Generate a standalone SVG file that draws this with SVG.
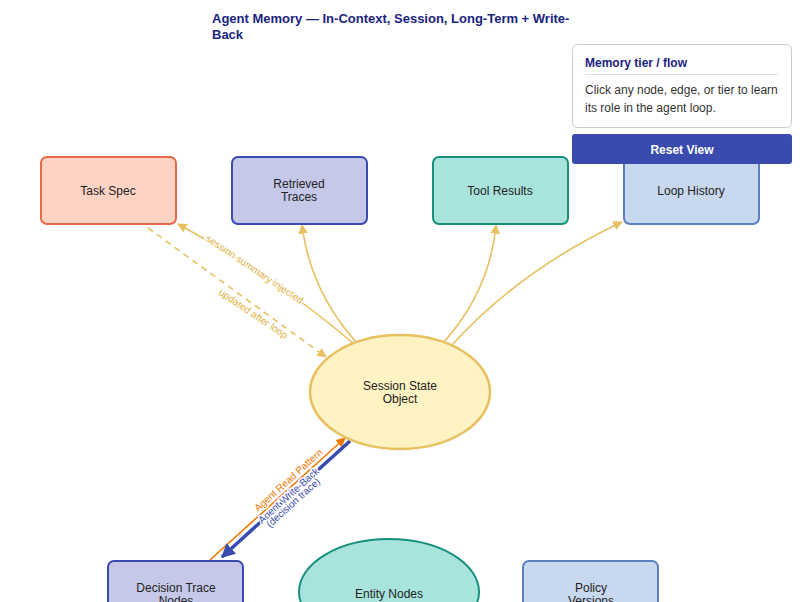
<svg xmlns="http://www.w3.org/2000/svg" width="800" height="602" viewBox="0 0 800 602">
<style>
text{font-family:"Liberation Sans",Arial,sans-serif;fill:#222}
.n{font-size:12px;text-anchor:middle}
.e{fill:none;stroke:#e8c060;stroke-width:1.6}
.el{font-size:10px;fill:#e0b040}
.h{paint-order:stroke;stroke:#fff;stroke-width:3px;stroke-linejoin:round}
</style>
<defs>
<marker id="ay" viewBox="0 0 10 10" refX="9" refY="5" markerWidth="6" markerHeight="6" orient="auto"><path d="M0,0L10,5L0,10z" fill="#e8c060"/></marker>
<marker id="ao" viewBox="0 0 10 10" refX="9" refY="5" markerWidth="6" markerHeight="6" orient="auto"><path d="M0,0L10,5L0,10z" fill="#f07800"/></marker>
<marker id="ab" viewBox="0 0 10 10" refX="9" refY="5" markerWidth="4" markerHeight="4" orient="auto"><path d="M0,0L10,5L0,10z" fill="#3a4bb0"/></marker>
</defs>
<rect width="800" height="602" fill="#fff"/>
<text x="212" y="23" font-size="13" font-weight="bold" style="fill:#1a237e">Agent Memory — In-Context, Session, Long-Term + Write-</text>
<text x="212" y="39" font-size="13" font-weight="bold" style="fill:#1a237e">Back</text>
<g id="edges">
<path class="e" d="M354,344 Q280,280 178,224" marker-end="url(#ay)"/>
<path class="e" d="M148,228 L326,357" stroke-dasharray="6,5" marker-end="url(#ay)"/>
<path class="e" d="M356,342 Q310,290 302,225" marker-end="url(#ay)"/>
<path class="e" d="M444,342 Q490,290 496,225" marker-end="url(#ay)"/>
<path class="e" d="M452,345 Q520,270 622,222" marker-end="url(#ay)"/>
<text class="el h" transform="translate(205,240) rotate(34)">session summary injected</text>
<text class="el h" transform="translate(218,294) rotate(34)">updated after loop</text>
<line x1="210" y1="560" x2="345" y2="438" stroke="#f07800" stroke-width="1.6" marker-end="url(#ao)"/>
<line x1="350" y1="441" x2="222" y2="557" stroke="#3a4bb0" stroke-width="3.5" marker-end="url(#ab)"/>
<text class="h" transform="translate(258,512) rotate(-42)" font-size="10" style="fill:#f07800">Agent Read Pattern</text>
<text class="h" transform="translate(262,524) rotate(-42)" font-size="10" style="fill:#3a4bb0">Agent Write-Back</text>
<text class="h" transform="translate(270,528) rotate(-42)" font-size="10" style="fill:#3a4bb0">(decision trace)</text>
</g>
<g id="task"><rect x="41" y="157" width="135" height="67" rx="6" fill="#ffd3c4" stroke="#e8694a" stroke-width="2"/><text class="n" x="108" y="195">Task Spec</text></g>
<g id="traces"><rect x="232" y="157" width="135" height="67" rx="6" fill="#c5c8e8" stroke="#3a4bb0" stroke-width="2"/><text class="n" x="299" y="188">Retrieved</text><text class="n" x="299" y="201">Traces</text></g>
<g id="tools"><rect x="433" y="157" width="135" height="67" rx="6" fill="#a8e4dc" stroke="#17907e" stroke-width="2"/><text class="n" x="500" y="195">Tool Results</text></g>
<g id="loop"><rect x="624" y="157" width="135" height="67" rx="6" fill="#c8d8ee" stroke="#5a80c0" stroke-width="2"/><text class="n" x="691" y="195">Loop History</text></g>
<g id="session"><ellipse cx="400" cy="392" rx="90" ry="57" fill="#fff3c4" stroke="#e8c060" stroke-width="2.5"/><text class="n" x="400" y="390">Session State</text><text class="n" x="400" y="403">Object</text></g>
<g id="decision"><rect x="108" y="561" width="135" height="60" rx="6" fill="#c5c8e8" stroke="#3a4bb0" stroke-width="2"/><text class="n" x="176" y="592">Decision Trace</text><text class="n" x="176" y="605">Nodes</text></g>
<g id="entity"><ellipse cx="389" cy="592" rx="90" ry="53" fill="#a8e4dc" stroke="#17907e" stroke-width="2"/><text class="n" x="389" y="598">Entity Nodes</text></g>
<g id="policy"><rect x="523" y="561" width="135" height="60" rx="6" fill="#c8d8ee" stroke="#5a80c0" stroke-width="2"/><text class="n" x="591" y="592">Policy</text><text class="n" x="591" y="605">Versions</text></g>
<g id="panel">
<rect x="572.500" y="44.500" width="219" height="83" rx="5" fill="#fff" stroke="#ccc"/>
<text x="585" y="67" font-size="12" font-weight="bold" style="fill:#1a237e">Memory tier / flow</text>
<line x1="585" y1="74.500" x2="778" y2="74.500" stroke="#ddd"/>
<text x="585" y="94" font-size="12" style="fill:#333">Click any node, edge, or tier to learn</text>
<text x="585" y="112" font-size="12" style="fill:#333">its role in the agent loop.</text>
<rect x="572" y="134" width="220" height="30" rx="3" fill="#3a4bb0"/>
<text x="682" y="154" font-size="12" font-weight="bold" text-anchor="middle" style="fill:#fff">Reset View</text>
</g>
</svg>
